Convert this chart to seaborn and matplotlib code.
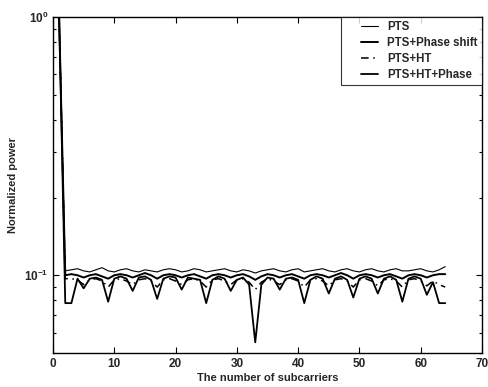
import numpy as np
import pandas as pd
import matplotlib
matplotlib.use("Agg")
import matplotlib.pyplot as plt
import seaborn as sns
from matplotlib.ticker import LogLocator, FixedLocator, NullFormatter
from matplotlib.legend_handler import HandlerLine2D
from matplotlib.lines import Line2D

subcarriers = list(range(1, 65))

pts = [1.0, 0.104, 0.105, 0.106, 0.104, 0.103, 0.105, 0.107, 0.104, 0.103,
       0.105, 0.106, 0.104, 0.103, 0.105, 0.104, 0.103, 0.105, 0.106, 0.105,
       0.103, 0.104, 0.106, 0.105, 0.103, 0.104, 0.105, 0.106, 0.104, 0.103,
       0.105, 0.104, 0.102, 0.104, 0.105, 0.106, 0.104, 0.103, 0.105, 0.106,
       0.103, 0.104, 0.105, 0.106, 0.104, 0.103, 0.105, 0.106, 0.104, 0.103,
       0.105, 0.106, 0.104, 0.103, 0.105, 0.106, 0.104, 0.104, 0.105, 0.106,
       0.104, 0.103, 0.105, 0.108]

pts_phase = [1.0, 0.100, 0.101, 0.100, 0.098, 0.100, 0.101, 0.099, 0.097, 0.100,
             0.101, 0.100, 0.098, 0.100, 0.102, 0.100, 0.097, 0.100, 0.101, 0.100,
             0.098, 0.100, 0.101, 0.099, 0.097, 0.100, 0.101, 0.100, 0.098, 0.100,
             0.101, 0.099, 0.096, 0.099, 0.101, 0.100, 0.098, 0.100, 0.101, 0.099,
             0.097, 0.100, 0.101, 0.100, 0.098, 0.100, 0.102, 0.100, 0.097, 0.100,
             0.101, 0.100, 0.098, 0.100, 0.101, 0.099, 0.097, 0.100, 0.101, 0.100,
             0.098, 0.100, 0.101, 0.101]

pts_ht = [1.0, 0.097, 0.097, 0.096, 0.092, 0.096, 0.097, 0.095, 0.090, 0.096,
          0.097, 0.095, 0.092, 0.096, 0.097, 0.095, 0.090, 0.096, 0.097, 0.095,
          0.092, 0.096, 0.097, 0.095, 0.090, 0.096, 0.097, 0.095, 0.092, 0.096,
          0.097, 0.094, 0.088, 0.094, 0.097, 0.095, 0.092, 0.096, 0.097, 0.095,
          0.090, 0.096, 0.097, 0.095, 0.091, 0.096, 0.097, 0.095, 0.090, 0.096,
          0.097, 0.095, 0.091, 0.096, 0.097, 0.095, 0.090, 0.096, 0.097, 0.095,
          0.091, 0.095, 0.092, 0.090]

pts_ht_phase = [1.0, 0.078, 0.078, 0.097, 0.089, 0.097, 0.098, 0.096, 0.079, 0.097,
                0.099, 0.097, 0.087, 0.098, 0.099, 0.096, 0.081, 0.097, 0.099, 0.098,
                0.088, 0.098, 0.097, 0.096, 0.078, 0.096, 0.099, 0.097, 0.087, 0.096,
                0.098, 0.092, 0.055, 0.092, 0.098, 0.097, 0.088, 0.097, 0.098, 0.096,
                0.078, 0.096, 0.099, 0.097, 0.085, 0.097, 0.099, 0.096, 0.082, 0.097,
                0.099, 0.097, 0.085, 0.097, 0.099, 0.096, 0.079, 0.097, 0.099, 0.097,
                0.084, 0.094, 0.078, 0.078]

labels = ["PTS", "PTS+Phase shift", "PTS+HT", "PTS+HT+Phase"]
series = [pts, pts_phase, pts_ht, pts_ht_phase]
styles = [dict(lw=0.8, ls="-"), dict(lw=1.4, ls="-"),
          dict(lw=1.1, ls=(0, (5, 3, 1, 3))), dict(lw=1.3, ls="-")]

sns.set_style("ticks")
plt.rcParams["font.family"] = ["Liberation Sans", "DejaVu Sans"]
plt.rcParams["font.weight"] = "bold"
plt.rcParams["mathtext.fontset"] = "custom"
plt.rcParams["mathtext.rm"] = "Liberation Sans:bold"
plt.rcParams["mathtext.it"] = "Liberation Sans:bold"
plt.rcParams["mathtext.bf"] = "Liberation Sans:bold"

fig = plt.figure(figsize=(4.89, 3.87), dpi=100)
ax = fig.add_axes([53 / 489, 1 - 353 / 387, 429 / 489, 336 / 387])

for lab, vals, st in zip(labels, series, styles):
    df = pd.DataFrame({"x": subcarriers, "y": vals})
    sns.lineplot(data=df, x="x", y="y", ax=ax, color="black",
                 linewidth=st["lw"], linestyle=st["ls"], label=lab)

ax.set_yscale("log")
ax.set_xlim(0, 70)
ax.set_ylim(0.05, 1)
ax.xaxis.set_major_locator(FixedLocator(list(range(0, 71, 10))))
ax.yaxis.set_major_locator(LogLocator(base=10, numticks=5))
ax.yaxis.set_minor_locator(LogLocator(base=10, subs=np.arange(2, 10), numticks=10))
ax.yaxis.set_minor_formatter(NullFormatter())

ax.tick_params(which="both", direction="in", top=True, right=True,
               labelsize=8.5, width=0.8, color="black")
ax.tick_params(which="major", length=4)
ax.tick_params(which="minor", length=2.5)
for sp in ax.spines.values():
    sp.set_linewidth(1.0)
    sp.set_color("black")

ax.set_xlabel("The number of subcarriers", fontsize=8, fontweight="bold", labelpad=2)
ax.set_ylabel("Normalized power", fontsize=8, fontweight="bold", labelpad=4)

handles, labs = ax.get_legend_handles_labels()
hmap = {h: HandlerLine2D(xpad=1.4) for h in handles if isinstance(h, Line2D)}
leg = ax.legend(handles, labs, loc="upper right", fontsize=8.3, frameon=True,
                fancybox=False, edgecolor="black", borderaxespad=0,
                handlelength=2.9, handletextpad=0.8, labelspacing=0.35,
                borderpad=0.35, handler_map=hmap,
                prop={"weight": "bold", "size": 8.3})
leg.get_frame().set_linewidth(0.8)

fig.savefig("out.png", dpi=100)
